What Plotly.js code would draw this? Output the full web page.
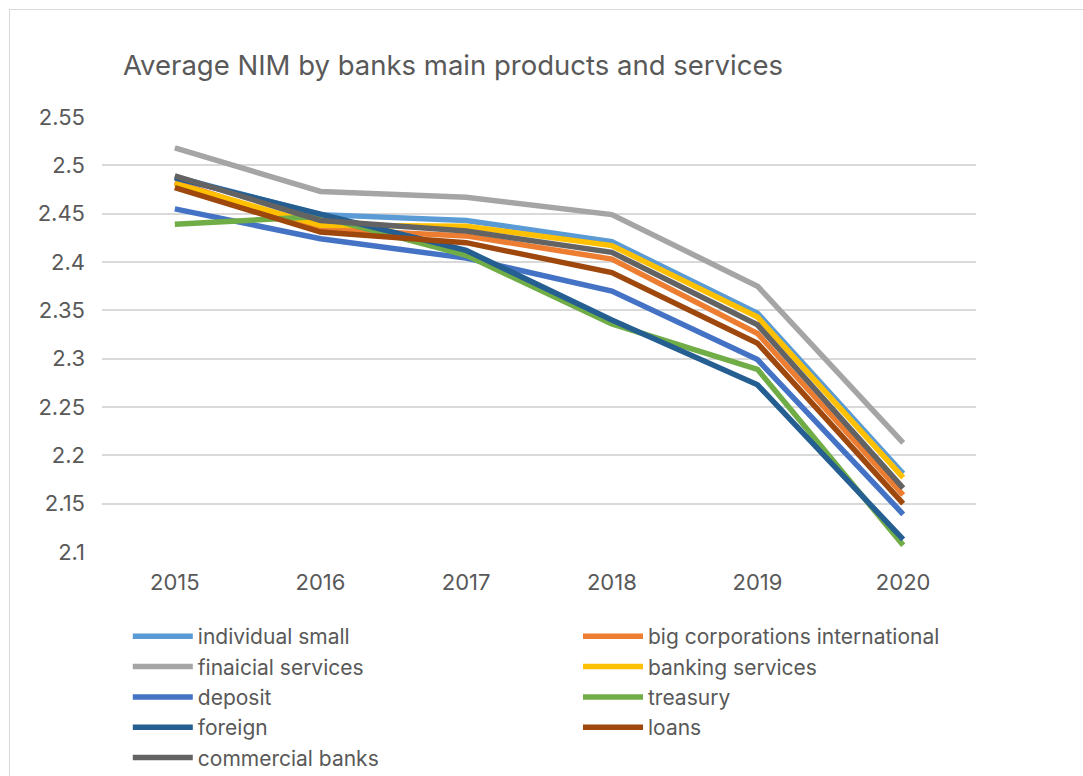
<!DOCTYPE html>
<html>
<head>
<meta charset="utf-8">
<script src="https://cdn.plot.ly/plotly-3.0.1.min.js"></script>
<style>
html,body{margin:0;padding:0;background:#fff;}
#chart{position:absolute;left:0;top:0;width:1083px;height:776px;}
#frame{position:absolute;left:9px;top:9px;width:1100px;height:800px;border:1px solid #d9d9d9;pointer-events:none;}
</style>
</head>
<body>
<div id="chart"></div>
<div id="frame"></div>
<script>
const years = ['2015','2016','2017','2018','2019','2020'];
const individualSmall = [2.488, 2.449, 2.443, 2.421, 2.347, 2.181];
const bigCorporations = [2.483, 2.434, 2.427, 2.403, 2.326, 2.159];
const financialServices = [2.518, 2.473, 2.467, 2.449, 2.375, 2.213];
const bankingServices = [2.481, 2.438, 2.437, 2.417, 2.343, 2.177];
const deposit = [2.455, 2.424, 2.404, 2.370, 2.299, 2.139];
const treasury = [2.439, 2.447, 2.407, 2.336, 2.289, 2.107];
const foreign = [2.487, 2.450, 2.412, 2.340, 2.273, 2.113];
const loans = [2.477, 2.431, 2.420, 2.389, 2.316, 2.150];
const commercialBanks = [2.489, 2.443, 2.432, 2.410, 2.335, 2.166];

const seriesNames = ['individual small','big corporations international','finaicial services','banking services','deposit','treasury','foreign','loans','commercial banks'];
const seriesValues = [individualSmall,bigCorporations,financialServices,bankingServices,deposit,treasury,foreign,loans,commercialBanks];
const seriesColors = ['#5B9BD5','#ED7D31','#A5A5A5','#FFC000','#4472C4','#70AD47','#255E91','#9E480E','#636363'];

const traces = seriesNames.map((n,i)=>({
  type:'scatter', mode:'lines', name:n, x:years, y:seriesValues[i],
  line:{color:seriesColors[i], width:5.5},
  legend: (i % 2 === 0) ? 'legend' : 'legend2'
}));

const fontFam = 'Inter, Liberation Sans, Arial, sans-serif';
const legendCommon = {orientation:'v', xref:'container', yref:'container', xanchor:'left', yanchor:'top', itemwidth:60, font:{size:21, color:'#595959'}, tracegroupgap:0, traceorder:'normal', bgcolor:'rgba(0,0,0,0)'};
const layout = {
  width:1083, height:776,
  margin:{l:102, r:107, t:117, b:224, autoexpand:false},
  paper_bgcolor:'#fff', plot_bgcolor:'#fff',
  font:{family:fontFam, color:'#595959', size:22},
  title:{text:'Average NIM by banks main products and services', xref:'container', yref:'container', x:0.1136, xanchor:'left', y:0.916, yanchor:'middle', font:{size:27.5, color:'#595959', family:fontFam}},
  xaxis:{type:'category', range:[-0.5,5.5], showgrid:false, zeroline:false, showline:false, ticks:'', tickfont:{size:22}, ticklabelstandoff:15},
  yaxis:{range:[2.1,2.55], dtick:0.05, tick0:2.1, showgrid:true, gridcolor:'#d9d9d9', gridwidth:2, zeroline:false, showline:false, ticks:'', tickfont:{size:22}, ticklabelstandoff:16},
  showlegend:true,
  legend:Object.assign({}, legendCommon, {x:0.118, y:0.206}),
  legend2:Object.assign({}, legendCommon, {x:0.5337, y:0.206})
};
Plotly.newPlot('chart', traces, layout, {displayModeBar:false, staticPlot:true});
</script>
</body>
</html>
